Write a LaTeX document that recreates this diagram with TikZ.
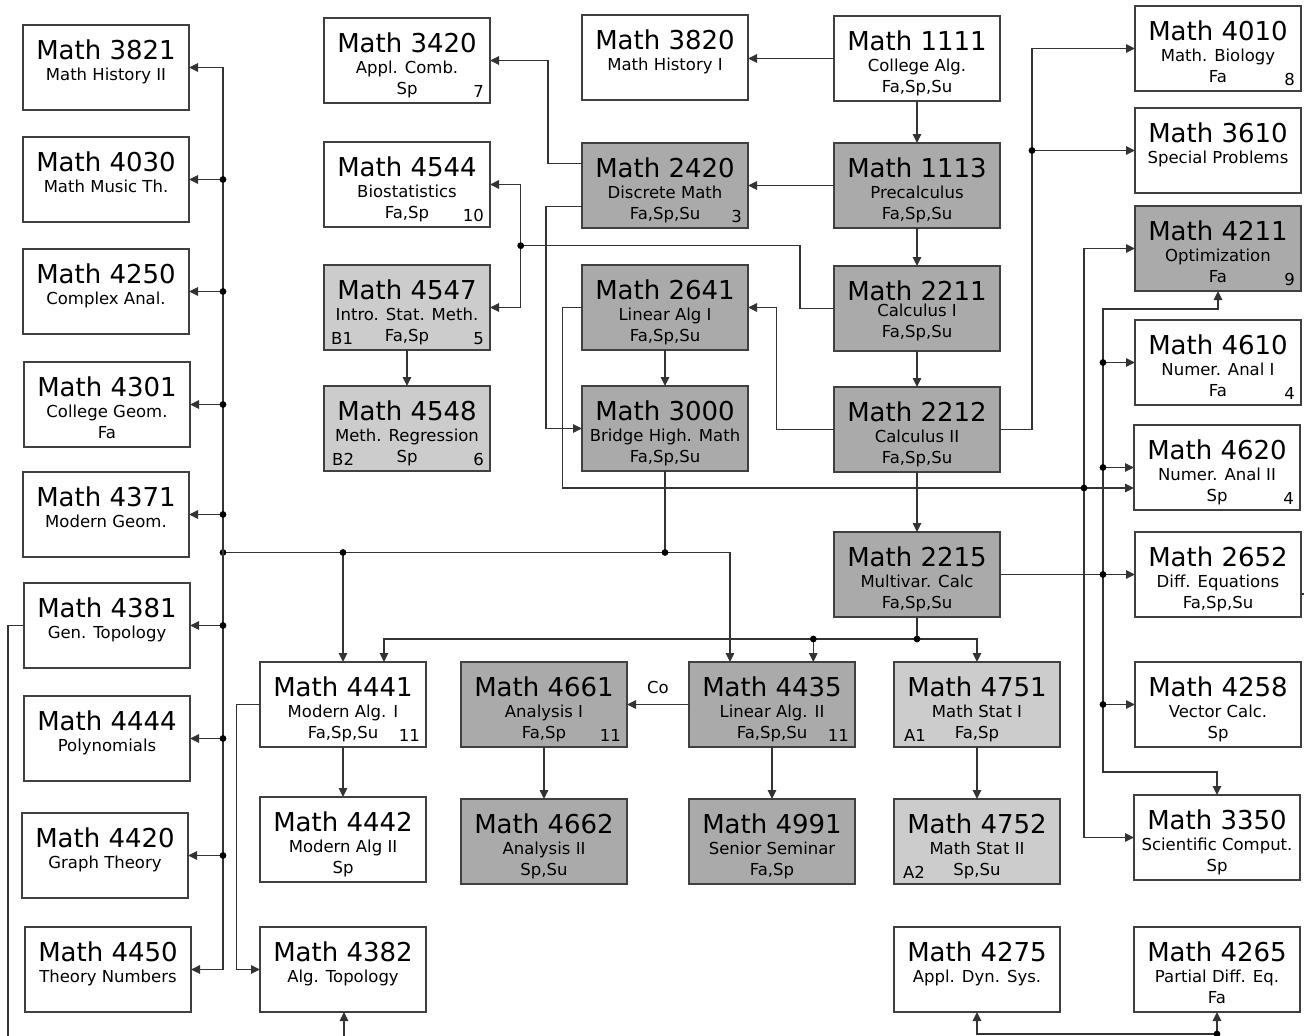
\documentclass[tikz,border=0pt]{standalone}
\usepackage{fontspec}
\setmainfont{DejaVu Sans}
\usetikzlibrary{arrows.meta}
\definecolor{dark}{HTML}{AAAAAA}
\definecolor{light}{HTML}{CCCCCC}
\tikzset{
  box/.style={draw=black!75, line width=1.3pt, minimum width=166pt, minimum height=85pt, inner sep=0pt, outer sep=0pt, anchor=north west},
  ttl/.style={font=\fontsize{26}{30}\selectfont, anchor=base, inner sep=0pt},
  sub/.style={font=\fontsize{16.5}{19}\selectfont, anchor=base, inner sep=0pt},
  conn/.style={draw=black!80, line width=1.3pt},
  arr/.style={conn, -{Triangle[length=9pt,width=8.5pt]}},
}
\newcommand{\mkcourse}[8]{%
  \node[box, fill=#4] (#1) at (#2,#3) {};
  \node[ttl] (#1t) at ([yshift=-34pt]#1.north) {Math #5};
  \if\relax\detokenize{#6}\relax\else
    \node[sub] (#1s) at ([yshift=-55.5pt]#1.north) {#6};\fi
  \if\relax\detokenize{#7}\relax\else
    \node[sub] (#1r) at ([yshift=-76pt]#1.north) {#7};\fi
  \if\relax\detokenize{#8}\relax\else
    \node[sub, anchor=base east] (#1c) at ([xshift=-6pt,yshift=6pt]#1.south east) {#8};\fi
}
\newcommand{\jdot}[1]{\fill[black] (#1) circle (3.4pt);}
\begin{document}
\begin{tikzpicture}[x=1pt,y=-1pt]
\useasboundingbox (0,0) rectangle (1304,1036);
\fill[white] (0,0) rectangle (1304,1036);

% left column
\mkcourse{n3821}{23}{25}{white}{3821}{Math History II}{}{}
\mkcourse{n4030}{23}{137}{white}{4030}{Math Music Th.}{}{}
\mkcourse{n4250}{23}{249}{white}{4250}{Complex Anal.}{}{}
\mkcourse{n4301}{24}{362}{white}{4301}{College Geom.}{Fa}{}
\mkcourse{n4371}{23}{472}{white}{4371}{Modern Geom.}{}{}
\mkcourse{n4381}{24}{583}{white}{4381}{Gen. Topology}{}{}
\mkcourse{n4444}{24}{696}{white}{4444}{Polynomials}{}{}
\mkcourse{n4420}{22}{813}{white}{4420}{Graph Theory}{}{}
\mkcourse{n4450}{25}{927}{white}{4450}{Theory Numbers}{}{}

% top middle
\mkcourse{n3420}{324}{18}{white}{3420}{Appl. Comb.}{Sp}{7}
\mkcourse{n3820}{582}{15}{white}{3820}{Math History I}{}{}
\mkcourse{n1111}{834}{16}{white}{1111}{College Alg.}{Fa,Sp,Su}{}
\mkcourse{n4544}{324}{142}{white}{4544}{Biostatistics}{Fa,Sp}{10}
\mkcourse{n2420}{582}{143}{dark}{2420}{Discrete Math}{Fa,Sp,Su}{3}
\mkcourse{n1113}{834}{143}{dark}{1113}{Precalculus}{Fa,Sp,Su}{}
\mkcourse{n4547}{324}{265}{light}{4547}{Intro. Stat. Meth.}{Fa,Sp}{5}
\mkcourse{n2641}{582}{265}{dark}{2641}{Linear Alg I}{Fa,Sp,Su}{}
\node[box, fill=dark] (n2211) at (834,266) {};
\node[ttl] (n2211t) at ([yshift=-34pt]n2211.north) {Math 2211};
\node[sub] (n2211s) at ([yshift=-50pt]n2211.north) {Calculus I};
\node[sub] (n2211r) at ([yshift=-71pt]n2211.north) {Fa,Sp,Su};
\mkcourse{n4548}{324}{386}{light}{4548}{Meth. Regression}{Sp}{6}
\mkcourse{n3000}{582}{386}{dark}{3000}{Bridge High. Math}{Fa,Sp,Su}{}
\mkcourse{n2212}{834}{387}{dark}{2212}{Calculus II}{Fa,Sp,Su}{}
\mkcourse{n2215}{834}{532}{dark}{2215}{Multivar. Calc}{Fa,Sp,Su}{}
\node[sub, anchor=base west] (n4547l) at ([xshift=7pt,yshift=6pt]n4547.south west) {B1};
\node[sub, anchor=base west] (n4548l) at ([xshift=8pt,yshift=6pt]n4548.south west) {B2};

% right column
\mkcourse{n4010}{1135}{6}{white}{4010}{Math. Biology}{Fa}{8}
\mkcourse{n3610}{1135}{108}{white}{3610}{Special Problems}{}{}
\mkcourse{n4211}{1135}{206}{dark}{4211}{Optimization}{Fa}{9}
\mkcourse{n4610}{1135}{320}{white}{4610}{Numer. Anal I}{Fa}{4}
\mkcourse{n4620}{1134}{425}{white}{4620}{Numer. Anal II}{Sp}{4}
\mkcourse{n2652}{1135}{532}{white}{2652}{Diff. Equations}{Fa,Sp,Su}{}
\mkcourse{n4258}{1135}{662}{white}{4258}{Vector Calc.}{Sp}{}
\mkcourse{n3350}{1134}{795}{white}{3350}{Scientific Comput.}{Sp}{}
\mkcourse{n4265}{1134}{927}{white}{4265}{Partial Diff. Eq.}{Fa}{}

% lower middle
\mkcourse{n4441}{260}{662}{white}{4441}{Modern Alg. I}{Fa,Sp,Su}{11}
\mkcourse{n4661}{461}{662}{dark}{4661}{Analysis I}{Fa,Sp}{11}
\mkcourse{n4435}{689}{662}{dark}{4435}{Linear Alg. II}{Fa,Sp,Su}{11}
\mkcourse{n4751}{894}{662}{light}{4751}{Math Stat I}{Fa,Sp}{}
\mkcourse{n4442}{260}{797}{white}{4442}{Modern Alg II}{Sp}{}
\mkcourse{n4662}{461}{799}{dark}{4662}{Analysis II}{Sp,Su}{}
\mkcourse{n4991}{689}{799}{dark}{4991}{Senior Seminar}{Fa,Sp}{}
\mkcourse{n4752}{894}{799}{light}{4752}{Math Stat II}{Sp,Su}{}
\mkcourse{n4382}{260}{927}{white}{4382}{Alg. Topology}{}{}
\mkcourse{n4275}{894}{927}{white}{4275}{Appl. Dyn. Sys.}{}{}
\node[sub, anchor=base west] (n4751l) at ([xshift=10pt,yshift=6pt]n4751.south west) {A1};
\node[sub, anchor=base west] (n4752l) at ([xshift=9pt,yshift=6pt]n4752.south west) {A2};

% coordinates
\coordinate (j1) at (520.7,245.7);
\coordinate (j2) at (1032,150.5);
\coordinate (j3) at (1084,488);
\coordinate (j4) at (1103,574.5);
\coordinate (b1) at (1103,362.5);
\coordinate (b2) at (1103,467.5);
\coordinate (b3) at (1103,704.5);
\coordinate (j5) at (917,639);
\coordinate (j6) at (813.3,639);
\coordinate (j7) at (665,552.5);
\coordinate (j8) at (343,552.5);
\coordinate (j9) at (223,552.5);
\coordinate (j10) at (1217,1034);
\coordinate (e1) at (8,1036);
\coordinate (e2) at (344,1036);
\coordinate (e3) at (1217,1036);
\coordinate (e4) at (1304,594);

% simple vertical / horizontal arrows
\draw[arr] (n1111.south) -- (n1113.north);
\draw[arr] (n1113.south) -- (n2211.north);
\draw[arr] (n2211.south) -- (n2212.north);
\draw[arr] (n2212.south) -- (n2215.north);
\draw[arr] (n1111.west) -- (n1111.west -| n3820.east);
\draw[arr] (n1113.west) -- (n2420.east);
\draw[arr] (n2641.south) -- (n3000.north);
\draw[arr] (n4547.south) -- (n4548.north);
\draw[arr] (n4441.south) -- (n4442.north);
\draw[arr] (n4661.south) -- (n4662.north);
\draw[arr] (n4435.south) -- (n4991.north);
\draw[arr] (n4751.south) -- (n4752.north);
\draw[arr] (n4435.west) -- (n4661.east);
\node[sub] (co) at (658,693) {Co};

% 2420 branches
\draw[arr] ([yshift=22pt]n2420.west) -| (548,100) |- (n3420.east);
\draw[arr] ([yshift=-21pt]n2420.west) -| (546,300) |- (n3000.west);

% 2211 to statistics
\draw[conn] (n2211.west) -| (800,280) |- (j1);
\draw[arr] (j1) |- (n4544.east);
\draw[arr] (j1) |- (n4547.east);
\jdot{j1}

% 2212 branches
\draw[arr] (n2212.west) -| (776.4,380) |- (n2641.east);
\draw[arr] (n2212.east) -| (1032,300) |- (n4010.west);
\draw[arr] (j2) -- (n3610.west);
\jdot{j2}

% 2641 branches
\draw[conn] (n2641.west) -| (562.3,400) |- (j3);
\draw[arr] (j3) -- (j3 -| n4620.west);
\draw[arr] (j3) |- (n4211.west);
\draw[arr] (j3) |- (n3350.west);
\jdot{j3}

% 2215 right bus
\draw[arr] (n2215.east) -- (n2652.west);
\draw[arr] (j4) -- (1103,309) -| (n4211.south);
\draw[arr] (j4) -- (1103,772) -| (n3350.north);
\draw[arr] (b1) -- (n4610.west);
\draw[arr] (b2) -- (n4620.west);
\draw[arr] (b3) -- (n4258.west);
\jdot{j4}\jdot{b1}\jdot{b2}\jdot{b3}

% 2215 downwards
\draw[conn] (n2215.south) -- (j5);
\draw[arr] (j5) -| (n4751.north);
\draw[arr] (j5) -- (j6) -- (j6 |- n4435.north);
\draw[arr] (j6) -| ([xshift=41pt]n4441.north);
\jdot{j5}\jdot{j6}

% 3000 downwards
\draw[conn] (n3000.south) -- (j7);
\draw[arr] (j7) -| ([xshift=-42pt]n4435.north);
\draw[arr] (j7) -- (j8) -- (n4441.north);
\draw[conn] (j8) -- (j9);
\jdot{j7}\jdot{j8}\jdot{j9}

% left bus
\draw[arr] (j9) |- (n3821.east);
\draw[arr] (j9) |- (n4450.east);
\foreach \b in {n4030,n4250,n4301,n4371,n4381,n4444,n4420}{
  \draw[arr] (\b.east -| j9) -- (\b.east);
  \fill[black] (\b.east -| j9) circle (3.4pt);
}

% 4441 to 4382
\draw[arr] (n4441.west) -| (236.3,800) |- (n4382.west);

% free ends
\draw[conn] (n4381.west) -| (e1);
\draw[arr] (e2) -- (e2 |- n4382.south);
\draw[conn] (e3) -- (j10);
\draw[arr] (j10) -| (n4275.south);
\draw[arr] (j10) -- (n4265.south);
\jdot{j10}
\draw[conn] ([yshift=-19.5pt]n2652.east) -- (e4);
\end{tikzpicture}
\end{document}
